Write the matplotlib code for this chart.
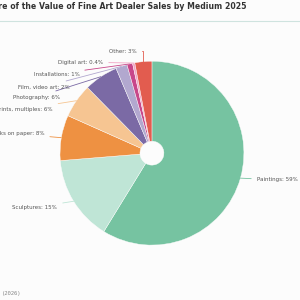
import numpy as np
import matplotlib.pyplot as plt

# data
mediums = ["Paintings", "Sculptures", "Works on paper", "Prints, multiples",
           "Photography", "Film, video art", "Installations", "Digital art", "Other"]
shares = [59, 15, 8, 6, 6, 2, 1, 0.4, 3]
share_labels = ["59%", "15%", "8%", "6%", "6%", "2%", "1%", "0.4%", "3%"]
colors = ["#76c3a1", "#bfe5d6", "#ee9142", "#f6c592", "#7b6aa5",
          "#b2a8cf", "#c8478a", "#f2a4c5", "#e25c4f"]

# label placement (in pie-radius units)
label_pos = [(1.14, -0.29), (-1.03, -0.59), (-1.17, 0.21), (-1.08, 0.48),
             (-1.00, 0.61), (-0.90, 0.72), (-0.79, 0.86), (-0.53, 0.99), (-0.17, 1.11)]

bg = "#fcfcfc"
fig = plt.figure(figsize=(3, 3), dpi=100, facecolor=bg)
ax = fig.add_axes([0.2, 0.183, 0.613, 0.613])
ax.set_facecolor(bg)

wedges, _ = ax.pie(shares, colors=colors, startangle=90, counterclock=False,
                   radius=1.0, wedgeprops=dict(width=0.87, edgecolor=bg, linewidth=0.3))
ax.set_xlim(-1, 1)
ax.set_ylim(-1, 1)
ax.set_aspect("equal")
ax.axis("off")

for w, name, lab, pos, col in zip(wedges, mediums, share_labels, label_pos, colors):
    ang = np.deg2rad((w.theta1 + w.theta2) / 2)
    edge = (np.cos(ang), np.sin(ang))
    ha = "left" if pos[0] > 0 else "right"
    conn = "angle,angleA=0,angleB=90,rad=0" if name == "Other" else "arc3"
    ax.annotate(f"{name}: {lab}", xy=edge, xytext=pos, ha=ha, va="center",
                fontsize=4, color="#555555", annotation_clip=False,
                arrowprops=dict(arrowstyle="-", color=col, lw=0.6,
                                shrinkA=2, shrinkB=0, connectionstyle=conn))

fig.text(-0.06, 0.978, "Share of the Value of Fine Art Dealer Sales by Medium 2025",
         fontsize=5.6, fontweight="semibold", color="#333333", va="center", ha="left")
fig.add_artist(plt.Line2D([0, 1], [0.93, 0.93], color="#cfe3df", lw=0.8,
                          transform=fig.transFigure))
fig.text(0.005, 0.02, "(2026)", fontsize=4, family="DejaVu Sans Mono",
         color="#888888", va="center", ha="left")

fig.savefig("out.png", dpi=100, facecolor=bg)
